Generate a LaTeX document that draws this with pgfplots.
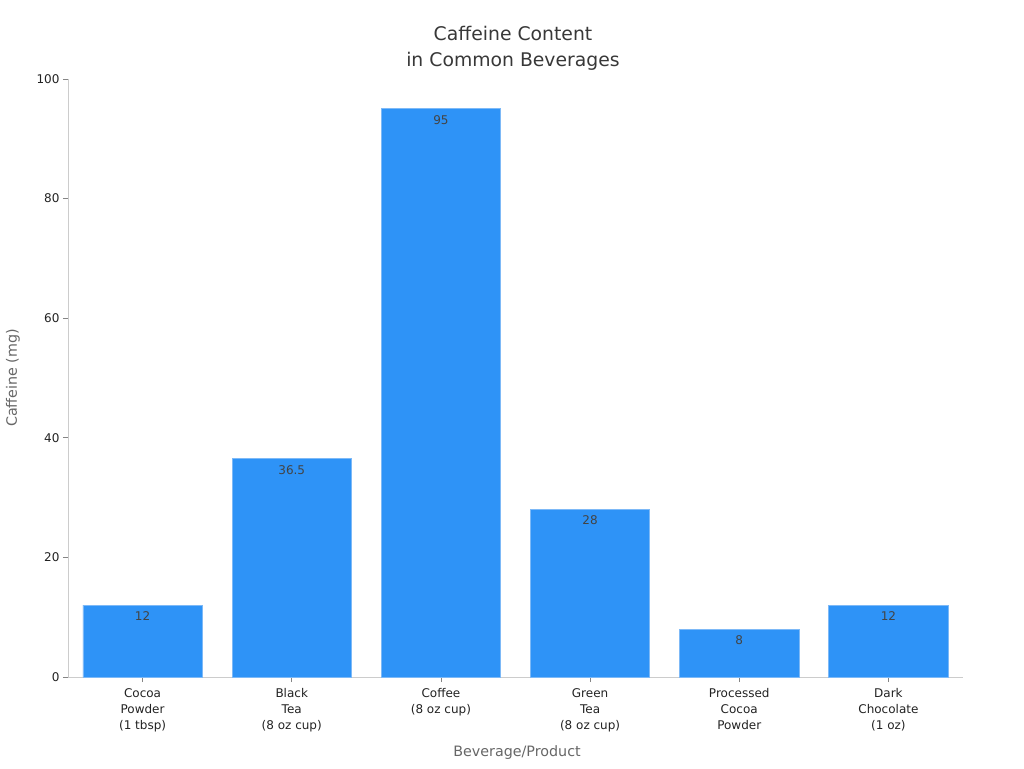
\documentclass[border=0pt]{standalone}
\usepackage{pgfplots}
\pgfplotsset{compat=1.18}
\usepackage{fontspec}
\setmainfont{DejaVu Sans}
\definecolor{barblue}{HTML}{2E93F7}
\definecolor{baredge}{HTML}{7DB9F7}
\definecolor{axgray}{HTML}{CCCCCC}
\definecolor{labgray}{HTML}{666666}
\definecolor{tickgray}{HTML}{222222}
\begin{document}
\begin{tikzpicture}
\path (-68pt,-91pt) rectangle (956pt,677pt);
\node[align=center, font=\fontsize{18.8}{26}\selectfont, text=tickgray!90] at (445pt,629pt) {Caffeine Content\\in Common Beverages};
\begin{axis}[
  anchor=south west,
  scale only axis, width=895pt, height=598pt,
  xmin=-0.5, xmax=5.5, ymin=0, ymax=100,
  axis lines*=left,
  axis line style={axgray, line width=0.8pt},
  tick align=outside, major tick length=5pt,
  tick style={color=labgray!80, line width=0.8pt},
  xtick={0,1,2,3,4,5},
  xticklabels={{Cocoa\\Powder\\(1 tbsp)},{Black\\Tea\\(8 oz cup)},{Coffee\\(8 oz cup)},{Green\\Tea\\(8 oz cup)},{Processed\\Cocoa\\Powder},{Dark\\Chocolate\\(1 oz)}},
  xticklabel style={align=center, font=\fontsize{12}{16}\selectfont, text=tickgray, yshift=-3pt},
  ytick={0,20,40,60,80,100},
  yticklabel style={font=\fontsize{12}{16}\selectfont, text=tickgray},
  /pgf/number format/assume math mode=true,
  xlabel={Beverage/Product},
  ylabel={Caffeine (mg)},
  xlabel style={font=\fontsize{14.3}{16}\selectfont, text=labgray, at={(axis description cs:0.5017,-0.1270)}, anchor=center},
  ylabel style={font=\fontsize{14.3}{16}\selectfont, text=labgray, at={(axis description cs:-0.0615,0.5)}, anchor=center, rotate=0},
  nodes near coords,
  nodes near coords style={font=\fontsize{12}{14}\selectfont, text=tickgray!85, anchor=center, yshift=-11pt},
  point meta=explicit symbolic,
  clip=false,
]
\addplot[ybar, bar width=0.8, fill=barblue, draw=baredge, line width=0.8pt] coordinates {
  (0,12) [12]
  (1,36.5) [36.5]
  (2,95) [95]
  (3,28) [28]
  (4,8) [8]
  (5,12) [12]
};
\end{axis}
\end{tikzpicture}
\end{document}
